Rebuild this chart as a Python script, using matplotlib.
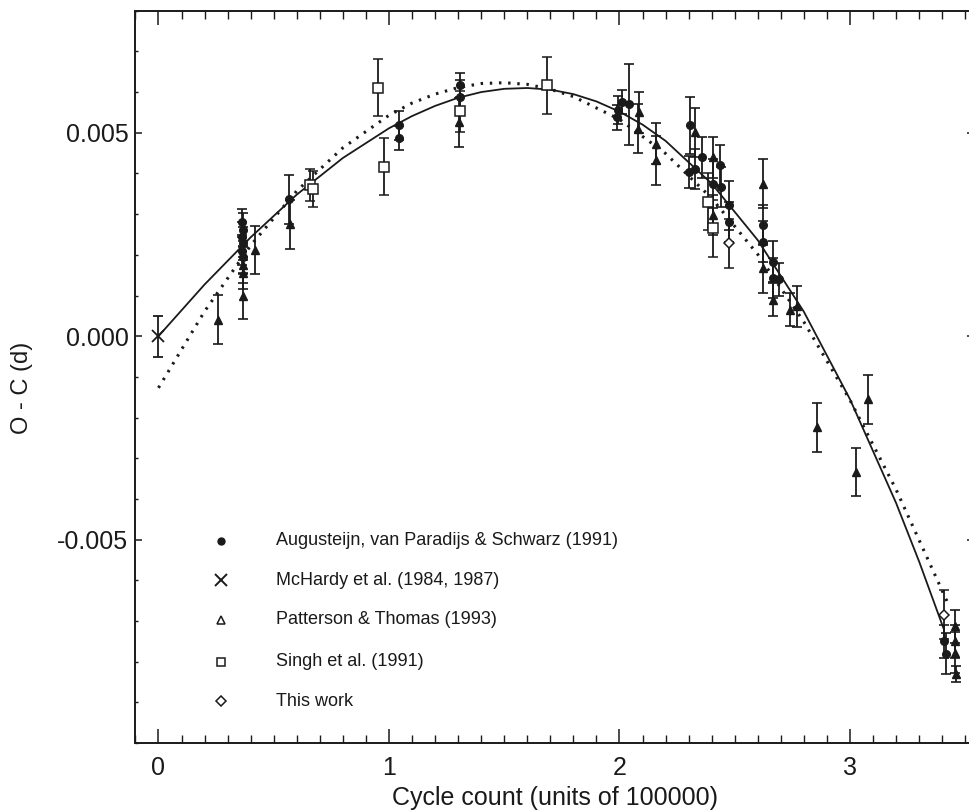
import matplotlib
matplotlib.use("Agg")
import matplotlib.pyplot as plt
from matplotlib.ticker import MultipleLocator, FixedLocator, FormatStrFormatter

plt.rcParams['font.family'] = ['Liberation Sans', 'DejaVu Sans']
plt.rcParams['axes.unicode_minus'] = False

INK = '#1a1a1a'

# Augusteijn, van Paradijs & Schwarz (1991)
aug_x = [0.362, 0.366, 0.364, 0.368, 0.363, 0.367, 0.568, 1.045, 1.045, 1.308, 1.308,
         1.988, 1.995, 2.010, 2.040, 2.306, 2.300, 2.328, 2.357, 2.404, 2.435, 2.440,
         2.476, 2.476, 2.624, 2.624, 2.667, 2.667, 2.693, 3.410, 3.415]
aug_y = [0.00280, 0.00262, 0.00245, 0.00228, 0.00210, 0.00195, 0.00336, 0.00518, 0.00487,
         0.00617, 0.00589, 0.00538, 0.00556, 0.00575, 0.00570, 0.00518, 0.00403, 0.00411,
         0.00440, 0.00375, 0.00420, 0.00367, 0.00322, 0.00281, 0.00273, 0.00232, 0.00183,
         0.00143, 0.00140, -0.00750, -0.00780]
aug_err = [0.00032, 0.00040, 0.00035, 0.00040, 0.00035, 0.00040, 0.00060, 0.00035, 0.00030,
           0.00030, 0.00040, 0.00030, 0.00035, 0.00030, 0.00100, 0.00070, 0.00040, 0.00050,
           0.00050, 0.00060, 0.00050, 0.00050, 0.00060, 0.00050, 0.00050, 0.00050, 0.00050,
           0.00050, 0.00040, 0.00040, 0.00050]

# McHardy et al. (1984, 1987)
mch_x = [0.0]
mch_y = [0.0]
mch_err = [0.0005]

# Patterson & Thomas (1993)
pat_x = [0.257, 0.365, 0.368, 0.366, 0.419, 0.572, 1.305, 2.086, 2.082, 2.158, 2.158,
         2.328, 2.404, 2.404, 2.624, 2.624, 2.667, 2.740, 2.770, 2.856, 3.025, 3.079,
         3.455, 3.455, 3.455, 3.460]
pat_y = [0.00041, 0.00175, 0.00155, 0.00098, 0.00212, 0.00275, 0.00526, 0.00550, 0.00510,
         0.00473, 0.00432, 0.00501, 0.00440, 0.00298, 0.00375, 0.00167, 0.00090, 0.00065,
         0.00073, -0.00224, -0.00334, -0.00155, -0.00713, -0.00750, -0.00778, -0.00830]
pat_err = [0.00060, 0.00045, 0.00040, 0.00055, 0.00060, 0.00060, 0.00060, 0.00050, 0.00060,
           0.00050, 0.00060, 0.00060, 0.00050, 0.00050, 0.00060, 0.00060, 0.00040, 0.00040,
           0.00050, 0.00060, 0.00060, 0.00060, 0.00040, 0.00040, 0.00050, 0.00020]

# Singh et al. (1991)
sin_x = [0.657, 0.672, 0.951, 0.980, 1.310, 1.684, 2.385, 2.404]
sin_y = [0.00372, 0.00362, 0.00611, 0.00417, 0.00553, 0.00617, 0.00330, 0.00265]
sin_err = [0.00040, 0.00045, 0.00070, 0.00070, 0.00050, 0.00070, 0.00070, 0.00070]

# This work
tw_x = [2.476, 3.410]
tw_y = [0.00228, -0.00685]
tw_err = [0.00060, 0.00060]

# ephemeris fits
cub_x = [0.0, 0.2, 0.4, 0.6, 0.8, 1.0, 1.1, 1.2, 1.3, 1.4, 1.5, 1.6, 1.7, 1.8, 1.9,
         2.0, 2.1, 2.2, 2.4, 2.6, 2.8, 3.0, 3.2, 3.3, 3.405]
cub_y = [0.0, 0.00127, 0.00243, 0.00348, 0.00438, 0.00511, 0.00541, 0.00566, 0.00586,
         0.00600, 0.00608, 0.00610, 0.00606, 0.00595, 0.00577, 0.00552, 0.00520, 0.00480,
         0.00375, 0.00236, 0.00060, -0.00155, -0.00410, -0.00554, -0.00717]
quad_x = [0.0, 0.2, 0.4, 0.6, 0.8, 1.0, 1.1, 1.2, 1.3, 1.4, 1.5, 1.6, 1.7, 1.8, 2.0,
          2.2, 2.4, 2.6, 2.8, 3.0, 3.2, 3.43]
quad_y = [-0.00127, 0.00061, 0.00223, 0.00357, 0.00463, 0.00543, 0.00573, 0.00595,
          0.00611, 0.00621, 0.00623, 0.00619, 0.00607, 0.00589, 0.00533, 0.00449,
          0.00339, 0.00201, 0.00035, -0.00157, -0.00377, -0.00663]

legend_labels = ['Augusteijn, van Paradijs & Schwarz (1991)', 'McHardy et al. (1984, 1987)',
                 'Patterson & Thomas (1993)', 'Singh et al. (1991)', 'This work']
legend_y = [-0.00503, -0.00600, -0.00697, -0.00800, -0.00897]
y_ticks = [-0.005, 0.0, 0.005]

fig = plt.figure(figsize=(9.7, 8.11), dpi=100)
ax = fig.add_axes([0.1396, 0.0838, 0.865, 0.903])

ax.plot(cub_x, cub_y, '-', color=INK, lw=1.3, zorder=2)
ax.plot(quad_x, quad_y, color=INK, lw=2.2, linestyle=(0, (0.8, 2.2)), zorder=2)

eb = dict(ecolor=INK, elinewidth=1.3, capsize=3.5, capthick=1.2, ls='none', zorder=3)
ax.errorbar(aug_x, aug_y, yerr=aug_err, marker='o', ms=5.5, mfc=INK, mec=INK, **eb)
ax.errorbar(pat_x, pat_y, yerr=pat_err, marker='^', ms=6, mfc=INK, mec=INK, **eb)
ax.errorbar(sin_x, sin_y, yerr=sin_err, marker='s', ms=6.5, mfc='white', mec=INK, mew=1.1, **eb)
ax.errorbar(tw_x, tw_y, yerr=tw_err, marker='D', ms=5, mfc='white', mec=INK, mew=1.1, **eb)
ax.errorbar(mch_x, mch_y, yerr=mch_err, marker='x', ms=9, mec=INK, mew=1.3, **eb)

# key, drawn inside the axes
key_marks = [dict(marker='o', ms=5, mfc=INK, mec=INK),
             dict(marker='x', ms=8.5, mec=INK, mew=1.4),
             dict(marker='^', ms=5.5, mfc='white', mec=INK, mew=1.1),
             dict(marker='s', ms=5.5, mfc='white', mec=INK, mew=1.1),
             dict(marker='D', ms=5, mfc='white', mec=INK, mew=1.1)]
for ly, lab, mk in zip(legend_y, legend_labels, key_marks):
    ax.plot([0.27], [ly], ls='none', **mk)
    ax.text(0.51, ly, lab, fontsize=13, va='center', ha='left', color=INK)

ax.set_xlim(-0.1, 3.54)
ax.set_ylim(-0.010, 0.008)

ax.xaxis.set_major_locator(MultipleLocator(1))
ax.xaxis.set_minor_locator(MultipleLocator(0.1))
ax.xaxis.set_major_formatter(FormatStrFormatter('%d'))
ax.yaxis.set_major_locator(FixedLocator(y_ticks))
ax.yaxis.set_minor_locator(MultipleLocator(0.001))
ax.yaxis.set_major_formatter(FormatStrFormatter('%.3f'))

ax.tick_params(axis='x', which='major', direction='in', length=10, width=1.1,
               top=True, labelsize=18, pad=9, colors=INK)
ax.tick_params(axis='x', which='minor', direction='in', length=5.5, width=1.0, top=True, colors=INK)
ax.tick_params(axis='y', which='major', direction='in', length=5, width=1.1,
               right=True, labelsize=18, pad=5, colors=INK)
ax.tick_params(axis='y', which='minor', direction='in', length=2.5, width=1.0, right=True, colors=INK)

for s in ax.spines.values():
    s.set_linewidth(1.4)
    s.set_color(INK)

ax.set_xlabel('Cycle count (units of 100000)', fontsize=18, color=INK)
ax.xaxis.set_label_coords(0.5, -0.058)
ax.set_ylabel('O - C (d)', fontsize=17, color=INK)
ax.yaxis.set_label_coords(-0.122, 0.485)

fig.savefig('out.png', dpi=100, facecolor='white')
